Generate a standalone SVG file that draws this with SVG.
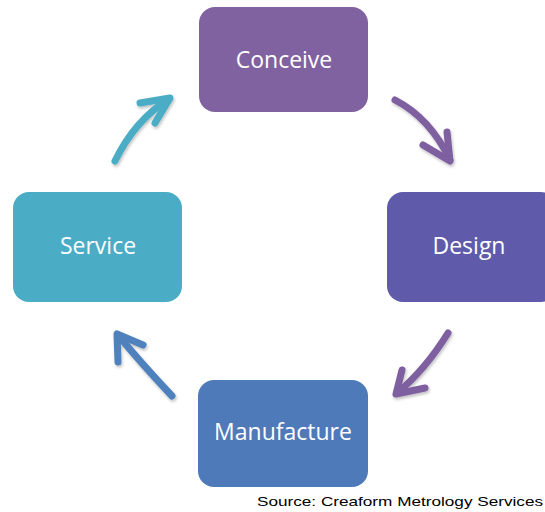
<svg xmlns="http://www.w3.org/2000/svg" width="545" height="512" viewBox="0 0 545 512">
<style>
.lbl{font-family:"Open Sans","Liberation Sans",sans-serif;font-size:23px;fill:#ffffff;text-anchor:middle;dominant-baseline:central}
.arr{fill:none;stroke-width:7;stroke-linecap:round;stroke-linejoin:round}
.src{font-family:"Liberation Sans",Arial,sans-serif;font-size:13.5px;fill:#000000}
</style>
<defs>
<filter id="sh" x="-20%" y="-20%" width="140%" height="140%">
<feDropShadow dx="1" dy="2" stdDeviation="1.5" flood-color="#000" flood-opacity="0.25"/>
</filter>
</defs>
<rect width="545" height="512" fill="#ffffff"/>
<g id="connectors" filter="url(#sh)">
<g id="c1" stroke="#7E5FA0">
<path class="arr" d="M395,100 Q430,118 450,160"/>
<path class="arr" d="M423,145 L450,161 L447,132"/>
</g>
<g id="c2" stroke="#7E5FA0">
<path class="arr" d="M448,333 Q425,370 397,393"/>
<path class="arr" d="M402,370 L396,394 L425,388"/>
</g>
<g id="c3" stroke="#4F81BD">
<path class="arr" d="M172,396 Q140,362 118,335"/>
<path class="arr" d="M143,345 L117,334 L118,362"/>
</g>
<g id="c4" stroke="#4BACC6">
<path class="arr" d="M115,161 Q135,120 169,99"/>
<path class="arr" d="M140,103 L170,98 L155,123"/>
</g>
</g>
<g id="conceive">
<rect x="199" y="7" width="169" height="105" rx="16" fill="#8062A1"/>
<text class="lbl" x="284" y="59">Conceive</text>
</g>
<g id="design">
<rect x="387" y="192" width="170" height="110" rx="16" fill="#5F5BAA"/>
<text class="lbl" x="469" y="245">Design</text>
</g>
<g id="manufacture">
<rect x="198" y="380" width="170" height="107" rx="16" fill="#4F7AB9"/>
<text class="lbl" x="283" y="431">Manufacture</text>
</g>
<g id="service">
<rect x="13" y="192" width="169" height="110" rx="16" fill="#4BACC6"/>
<text class="lbl" x="98" y="245">Service</text>
</g>
<text class="src" x="257" y="506" textLength="286" lengthAdjust="spacingAndGlyphs">Source: Creaform Metrology Services</text>
</svg>
